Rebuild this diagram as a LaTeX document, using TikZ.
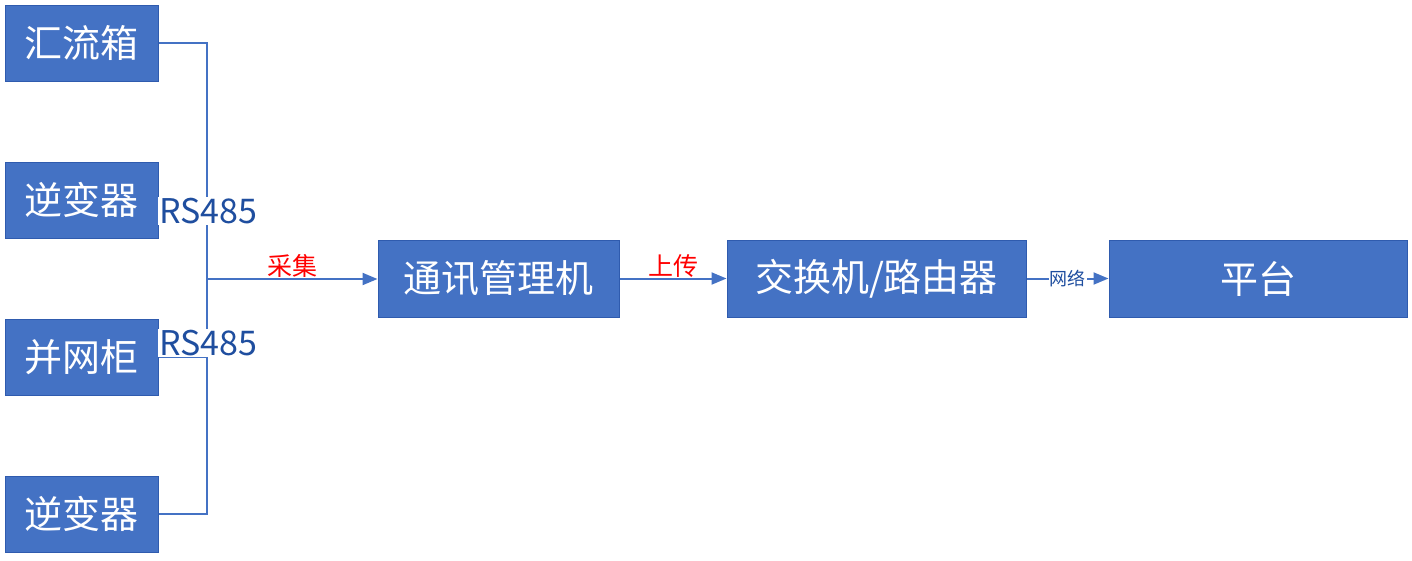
\documentclass[tikz,border=0pt]{standalone}
\usepackage{fontspec}
\setmainfont{Noto Sans CJK SC}
\usetikzlibrary{arrows.meta}
\definecolor{boxblue}{HTML}{4472C4}
\definecolor{boxedge}{HTML}{2F5BAE}
\definecolor{lbl}{HTML}{1F4E9F}
\begin{document}
\begin{tikzpicture}[x=1pt,y=-1pt,
  box/.style={draw=boxedge,line width=1pt,fill=boxblue,text=white,inner sep=0pt,
    font=\fontsize{38}{40}\selectfont,minimum height=76pt},
  conn/.style={draw=boxblue,line width=2pt},
  arr/.style={conn,-{Triangle[length=15pt,width=12pt]}},
  rs/.style={fill=white,text=lbl,inner sep=1pt,font=\fontsize{34}{36}\selectfont},
  red/.style={text=red,font=\fontsize{25}{27}\selectfont}]
\useasboundingbox (0,0) rectangle (1412,560);
\node[box,minimum width=153pt] (a) at (81.5,43) {汇流箱};
\node[box,minimum width=153pt] (b) at (81.5,200) {逆变器};
\node[box,minimum width=153pt] (c) at (81.5,357) {并网柜};
\node[box,minimum width=153pt] (d) at (81.5,514) {逆变器};
\node[box,minimum width=241pt,minimum height=77pt] (m) at (498.5,278.5) {通讯管理机};
\node[box,minimum width=299pt,minimum height=77pt] (s) at (876.5,278.5) {交换机/路由器};
\node[box,minimum width=298pt,minimum height=77pt] (p) at (1258,278.5) {平台};
\coordinate (ta) at (207,43);
\coordinate (tb) at (207,200);
\coordinate (tc) at (207,357);
\coordinate (td) at (207,514);
\coordinate (j) at (207,279);
\draw[conn] (a.east) -- (ta) -- (td) -- (d.east);
\draw[conn] (b.east) -- (tb);
\draw[conn] (c.east) -- (tc);
\draw[arr] (j) -- (m.west|-j) node[red,midway,above=-3pt] {采集};
\draw[arr] (m.east) -- (s.west) node[red,midway,above=-3pt] {上传};
\draw[arr] (s.east) -- (p.west) node[midway,fill=white,text=lbl,inner sep=1pt,font=\fontsize{18}{20}\selectfont] {网络};
\node[rs] (r1) at (208,211) {RS485};
\node[rs] (r2) at (208,343) {RS485};
\end{tikzpicture}
\end{document}
